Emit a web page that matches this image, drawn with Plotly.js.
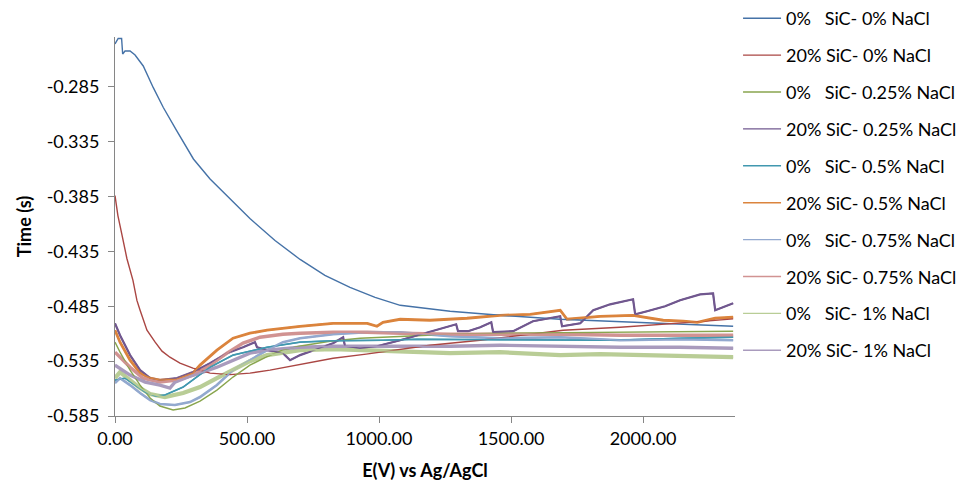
<!DOCTYPE html>
<html>
<head>
<meta charset="utf-8">
<script src="https://cdn.plot.ly/plotly-3.0.1.min.js"></script>
<style>html,body{margin:0;padding:0;background:#fff;}#chart{width:958px;height:483px;}</style>
</head>
<body>
<div id="chart"></div>
<script>
// Series names
const seriesNames = [
  "0%\u00a0\u00a0 SiC- 0% NaCl",
  "20% SiC- 0% NaCl",
  "0%\u00a0\u00a0 SiC- 0.25% NaCl",
  "20% SiC- 0.25% NaCl",
  "0%\u00a0\u00a0 SiC- 0.5% NaCl",
  "20% SiC- 0.5% NaCl",
  "0%\u00a0\u00a0 SiC- 0.75% NaCl",
  "20% SiC- 0.75% NaCl",
  "0%\u00a0\u00a0 SiC- 1% NaCl",
  "20% SiC- 1% NaCl"
];

// 0% SiC - 0% NaCl
const x_s0_n0 = [0,12,25,29,38,57,76,107,145,183,234,297,360,436,511,606,701,795,890,985,1080,1269,1458,1686,1962,2341];
const y_s0_n0 = [-0.2459,-0.2408,-0.2408,-0.2550,-0.2523,-0.2523,-0.2559,-0.2659,-0.2857,-0.3038,-0.3250,-0.3507,-0.3689,-0.3871,-0.4050,-0.4250,-0.4423,-0.4568,-0.4677,-0.4768,-0.4841,-0.4895,-0.4932,-0.4968,-0.4996,-0.5032];

// 20% SiC - 0% NaCl
const x_s20_n0 = [0,11,27,45,68,83,95,121,152,178,208,246,295,360,436,511,587,701,826,951,1080,1193,1383,1534,1697,1913,2091,2216,2341];
const y_s20_n0 = [-0.3841,-0.4023,-0.4205,-0.4414,-0.4614,-0.4796,-0.4886,-0.5068,-0.5177,-0.5259,-0.5314,-0.5368,-0.5414,-0.5459,-0.5473,-0.5459,-0.5432,-0.5377,-0.5323,-0.5286,-0.5241,-0.5205,-0.5159,-0.5114,-0.5068,-0.5041,-0.5014,-0.4990,-0.4965];

// 0% SiC - 0.25% NaCl
const x_s0_n025 = [0,19,57,95,133,170,220,265,322,386,447,511,572,633,697,814,928,1080,1269,1458,1837,2341];
const y_s0_n025 = [-0.5177,-0.5268,-0.5432,-0.5568,-0.5686,-0.5759,-0.5795,-0.5777,-0.5714,-0.5614,-0.5495,-0.5386,-0.5314,-0.5250,-0.5214,-0.5168,-0.5141,-0.5123,-0.5105,-0.5095,-0.5086,-0.5077];

// 20% SiC - 0.25% NaCl
const x_s20_n025 = [0,19,57,95,133,170,235,295,360,424,485,530,538,576,636,663,701,765,826,864,871,928,992,1080,1182,1258,1292,1299,1337,1383,1425,1432,1508,1583,1686,1693,1762,1811,1875,1962,1970,2015,2083,2140,2216,2265,2273,2341];
const y_s20_n025 = [-0.5005,-0.5114,-0.5295,-0.5432,-0.5505,-0.5523,-0.5505,-0.5450,-0.5368,-0.5277,-0.5223,-0.5177,-0.5223,-0.5250,-0.5277,-0.5341,-0.5295,-0.5241,-0.5186,-0.5132,-0.5214,-0.5232,-0.5214,-0.5159,-0.5086,-0.5032,-0.5014,-0.5077,-0.5077,-0.5041,-0.4996,-0.5086,-0.5077,-0.4986,-0.4941,-0.5032,-0.5005,-0.4886,-0.4832,-0.4786,-0.4923,-0.4895,-0.4850,-0.4795,-0.4741,-0.4732,-0.4886,-0.4823];

// 0% SiC - 0.5% NaCl
const x_s0_n05 = [0,38,76,114,152,189,258,322,360,447,576,701,826,1015,1144,1458,1886,2140,2341];
const y_s0_n05 = [-0.5523,-0.5505,-0.5568,-0.5632,-0.5668,-0.5659,-0.5586,-0.5477,-0.5405,-0.5295,-0.5223,-0.5177,-0.5164,-0.5159,-0.5150,-0.5155,-0.5159,-0.5141,-0.5132];

// 20% SiC - 0.5% NaCl
const x_s20_n05 = [0,19,57,95,133,170,235,295,322,386,447,511,576,636,701,826,955,992,1015,1080,1193,1333,1458,1572,1686,1712,1837,1962,2076,2152,2205,2273,2341];
const y_s20_n05 = [-0.5068,-0.5177,-0.5341,-0.5459,-0.5505,-0.5523,-0.5514,-0.5459,-0.5386,-0.5250,-0.5141,-0.5095,-0.5068,-0.5050,-0.5032,-0.5005,-0.5005,-0.5032,-0.4996,-0.4968,-0.4977,-0.4959,-0.4932,-0.4923,-0.4886,-0.4968,-0.4941,-0.4932,-0.4977,-0.4986,-0.4996,-0.4959,-0.4950];

// 0% SiC - 0.75% NaCl
const x_s0_n075 = [0,19,57,95,133,170,227,284,322,386,447,511,576,636,701,826,955,1080,1269,1458,1686,1913,2140,2341];
const y_s0_n075 = [-0.5550,-0.5505,-0.5568,-0.5641,-0.5705,-0.5741,-0.5750,-0.5723,-0.5677,-0.5568,-0.5432,-0.5341,-0.5250,-0.5177,-0.5141,-0.5105,-0.5086,-0.5086,-0.5123,-0.5141,-0.5132,-0.5159,-0.5150,-0.5159];

// 20% SiC - 0.75% NaCl
const x_s20_n075 = [0,19,57,106,170,235,295,360,424,485,549,636,701,826,955,1080,1269,1458,1686,1913,2140,2341];
const y_s20_n075 = [-0.5268,-0.5314,-0.5405,-0.5505,-0.5541,-0.5523,-0.5477,-0.5386,-0.5277,-0.5186,-0.5132,-0.5105,-0.5095,-0.5086,-0.5086,-0.5095,-0.5105,-0.5105,-0.5105,-0.5114,-0.5114,-0.5114];

// 0% SiC - 1% NaCl
const x_s0_n1 = [0,19,57,95,133,189,258,322,386,447,511,576,701,826,955,1080,1269,1458,1686,1837,2027,2216,2341];
const y_s0_n1 = [-0.5505,-0.5450,-0.5523,-0.5595,-0.5650,-0.5677,-0.5641,-0.5586,-0.5505,-0.5432,-0.5350,-0.5295,-0.5250,-0.5241,-0.5250,-0.5259,-0.5277,-0.5268,-0.5295,-0.5286,-0.5295,-0.5305,-0.5314];

// 20% SiC - 1% NaCl
const x_s20_n1 = [0,19,57,114,170,208,227,284,322,386,447,511,576,701,826,955,1080,1269,1458,1686,1913,2140,2341];
const y_s20_n1 = [-0.5386,-0.5414,-0.5477,-0.5541,-0.5568,-0.5595,-0.5541,-0.5486,-0.5459,-0.5405,-0.5341,-0.5277,-0.5250,-0.5223,-0.5214,-0.5214,-0.5214,-0.5214,-0.5205,-0.5214,-0.5223,-0.5223,-0.5232];

// Axis ticks
const xTicks = [0, 500, 1000, 1500, 2000];
const yTicks = [-0.585, -0.535, -0.485, -0.435, -0.385, -0.335, -0.285];
const yTickLabels = ["-0.585", "-0.535", "-0.485", "-0.435", "-0.385", "-0.335", "-0.285"];

const xs = [x_s0_n0, x_s20_n0, x_s0_n025, x_s20_n025, x_s0_n05, x_s20_n05, x_s0_n075, x_s20_n075, x_s0_n1, x_s20_n1];
const ys = [y_s0_n0, y_s20_n0, y_s0_n025, y_s20_n025, y_s0_n05, y_s20_n05, y_s0_n075, y_s20_n075, y_s0_n1, y_s20_n1];
const colors = ["#4572A7","#AA4643","#89A54E","#71588F","#4198AF","#DB843D","#93A9CF","#D19392","#B9CD96","#A99BBD"];
// noisy measurements appear as bands: widths of the band drawn behind each line
const bandWidths = [0, 0, 0, 2.2, 1.6, 2.8, 2.6, 3.4, 4.2, 3.4];

const traces = [];
seriesNames.forEach((n, i) => {
  if (bandWidths[i] > 0) {
    traces.push({
      type: 'scatter', mode: 'lines', name: n, x: xs[i], y: ys[i],
      showlegend: false, hoverinfo: 'skip',
      line: {color: colors[i], width: bandWidths[i]}
    });
  }
});
seriesNames.forEach((n, i) => {
  traces.push({
    type: 'scatter', mode: 'lines', name: n, x: xs[i], y: ys[i],
    legendgroup: 'g' + i,
    line: {color: colors[i], width: 1.4}
  });
});

const axisFont = {family: 'Lato, sans-serif', size: 18, color: '#000'};
const titleFont = {family: 'Lato, sans-serif', size: 18, color: '#000', weight: 'bold'};
const layout = {
  width: 958, height: 483,
  margin: {l: 115, r: 223, t: 37, b: 67},
  paper_bgcolor: '#fff', plot_bgcolor: '#fff',
  showlegend: true,
  legend: {
    xref: 'container', yref: 'container',
    x: 0.7704, xanchor: 'left', y: 1.012, yanchor: 'top',
    font: {family: 'Lato, sans-serif', size: 18, color: '#000'},
    tracegroupgap: 10.5, bgcolor: 'rgba(0,0,0,0)',
    itemwidth: 38, maxheight: 490
  },
  xaxis: {
    range: [0, 2348], tickvals: xTicks, tickformat: '.2f',
    showgrid: false, zeroline: false, showline: true, linecolor: '#868686', linewidth: 1,
    ticks: 'outside', ticklen: 6, tickcolor: '#868686', tickfont: axisFont,
    title: {text: 'E(V) vs Ag/AgCl', font: titleFont, standoff: 16}
  },
  yaxis: {
    range: [-0.585, -0.2395], tickvals: yTicks, ticktext: yTickLabels,
    showgrid: false, zeroline: false, showline: true, linecolor: '#868686', linewidth: 1,
    ticks: 'outside', ticklen: 6, tickcolor: '#868686', tickfont: axisFont,
    ticklabelstandoff: 5,
    title: {text: 'Time (s)', font: titleFont, standoff: 10}
  }
};

Plotly.newPlot('chart', traces, layout, {displayModeBar: false, staticPlot: true});
</script>
</body>
</html>
